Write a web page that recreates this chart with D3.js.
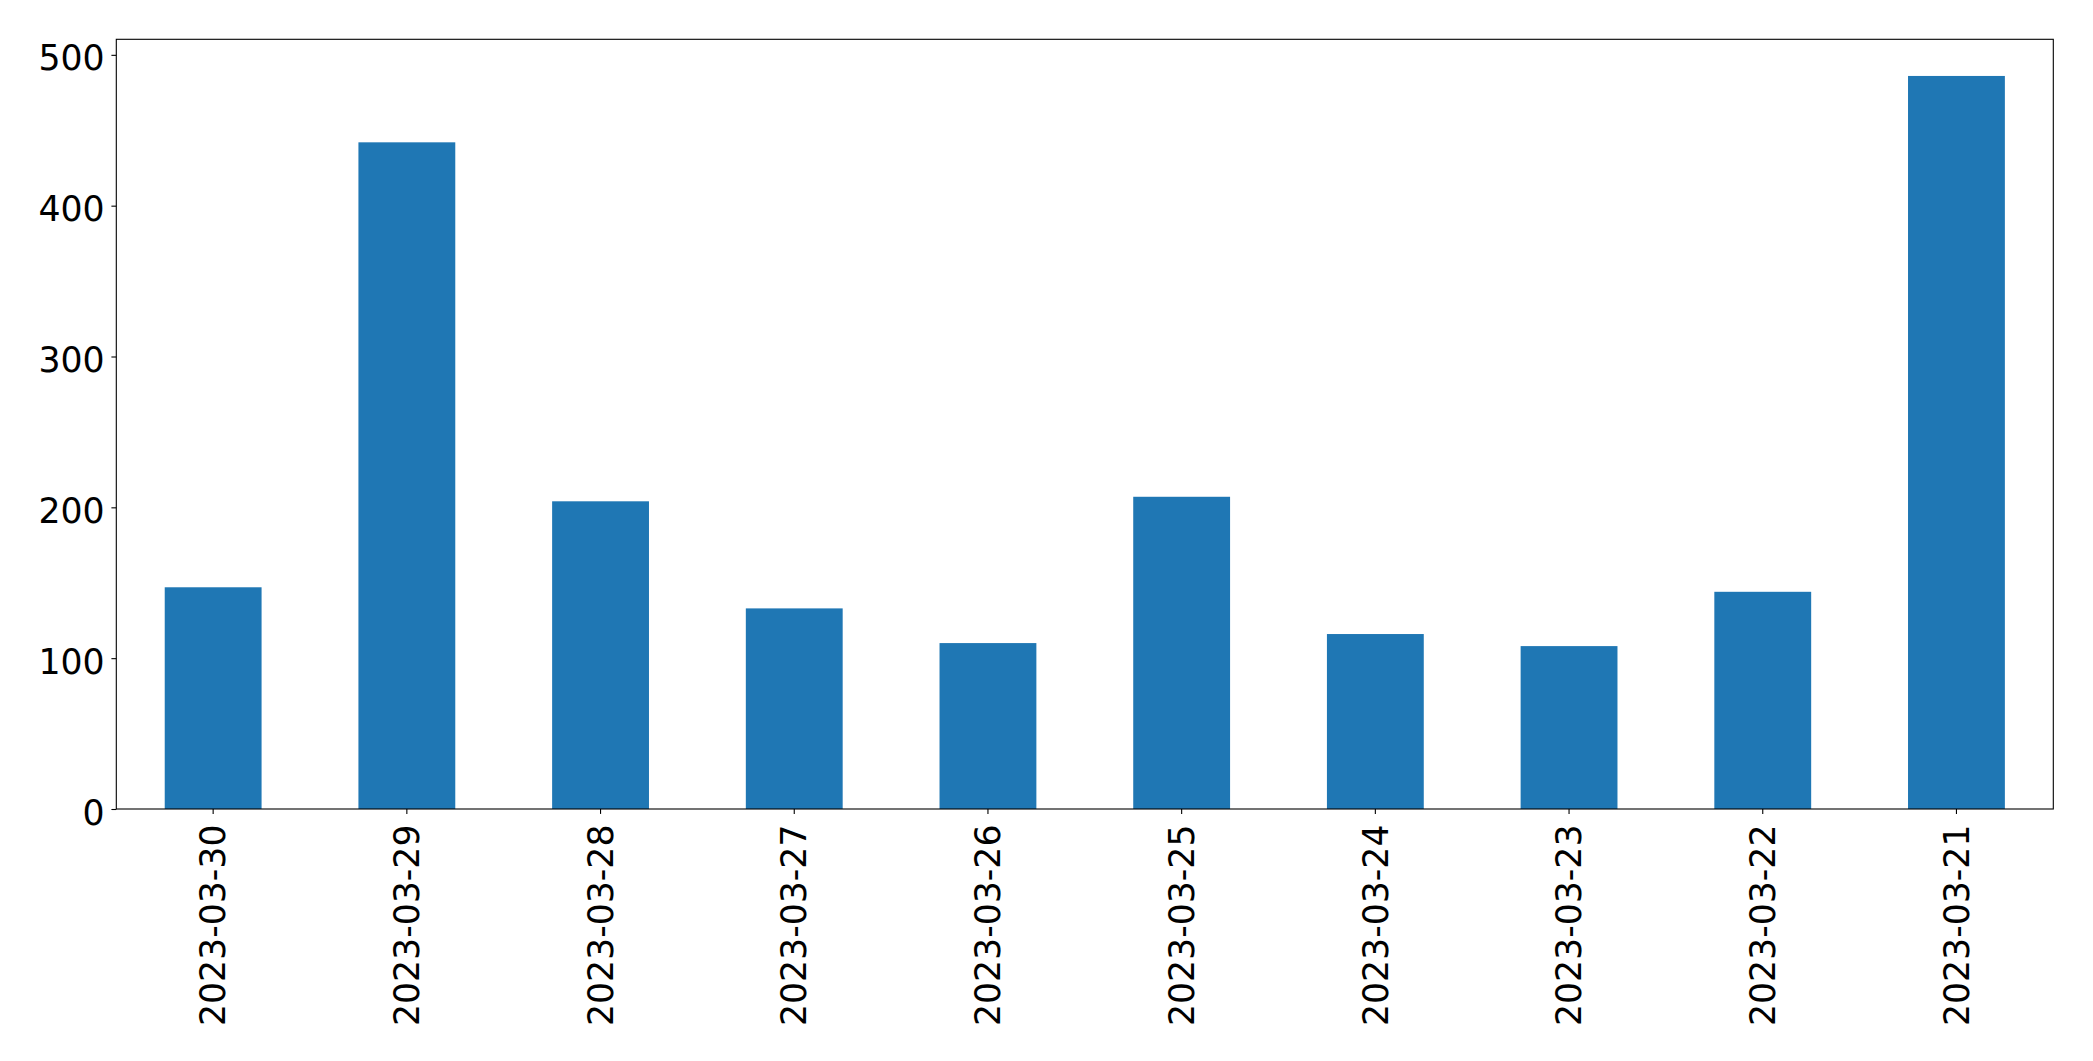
<!DOCTYPE html>
<html>
<head>
<meta charset="utf-8">
<script src="https://cdn.jsdelivr.net/npm/d3@7"></script>
<style>
  html, body { margin: 0; padding: 0; background: #ffffff; }
  svg { display: block; }
  text { font-family: "DejaVu Sans", sans-serif; fill: #000; }
</style>
</head>
<body>
<script>
const categories = ["2023-03-30","2023-03-29","2023-03-28","2023-03-27","2023-03-26","2023-03-25","2023-03-24","2023-03-23","2023-03-22","2023-03-21"];
const values = [147, 442, 204, 133, 110, 207, 116, 108, 144, 486];
const yTicks = [0, 100, 200, 300, 400, 500];

const W = 2093, H = 1061;
const plotLeft = 116.3, plotRight = 2053.3, plotTop = 39.3, plotBottom = 809;
const fontSize = 34.7;
const tickLen = 4.9;

const svg = d3.select("body").append("svg").attr("width", W).attr("height", H);

const x = d3.scaleBand().domain(categories).range([plotLeft, plotRight]).paddingInner(0.5).paddingOuter(0.25);
const yMax = d3.max(values) * 1.05;
const y = d3.scaleLinear().domain([0, yMax]).range([plotBottom, plotTop]);

// bars
svg.append("g").selectAll("rect").data(values).join("rect")
  .attr("x", (d, i) => x(categories[i]))
  .attr("width", x.bandwidth())
  .attr("y", d => y(d))
  .attr("height", d => y(0) - y(d))
  .attr("fill", "#1f77b4");

// frame
svg.append("rect")
  .attr("x", plotLeft).attr("y", plotTop)
  .attr("width", plotRight - plotLeft).attr("height", plotBottom - plotTop)
  .attr("fill", "none").attr("stroke", "#000").attr("stroke-width", 1.1);

// y axis
const yAxis = d3.axisLeft(y).tickValues(yTicks).tickSize(tickLen).tickPadding(0).tickFormat(d3.format("d"));
const gy = svg.append("g").attr("transform", `translate(${plotLeft},0)`).call(yAxis);
gy.select(".domain").remove();
gy.selectAll(".tick line").attr("stroke", "#000").attr("stroke-width", 1.1);
gy.selectAll(".tick text")
  .attr("x", -(plotLeft - 104.6))
  .attr("dy", null)
  .attr("y", 15)
  .style("font-size", fontSize + "px")
  .style("font-family", "'DejaVu Sans', sans-serif")
  .attr("text-anchor", "end");

// x axis
const xAxis = d3.axisBottom(x).tickSize(tickLen).tickPadding(0);
const gx = svg.append("g").attr("transform", `translate(0,${plotBottom})`).call(xAxis);
gx.select(".domain").remove();
gx.selectAll(".tick line").attr("stroke", "#000").attr("stroke-width", 1.1);
gx.selectAll(".tick text")
  .attr("y", null)
  .attr("transform", "translate(0,15.5) rotate(-90)")
  .attr("x", 0)
  .attr("dy", "0.35em")
  .attr("text-anchor", "end")
  .style("font-size", fontSize + "px")
  .style("font-family", "'DejaVu Sans', sans-serif");
</script>
</body>
</html>
